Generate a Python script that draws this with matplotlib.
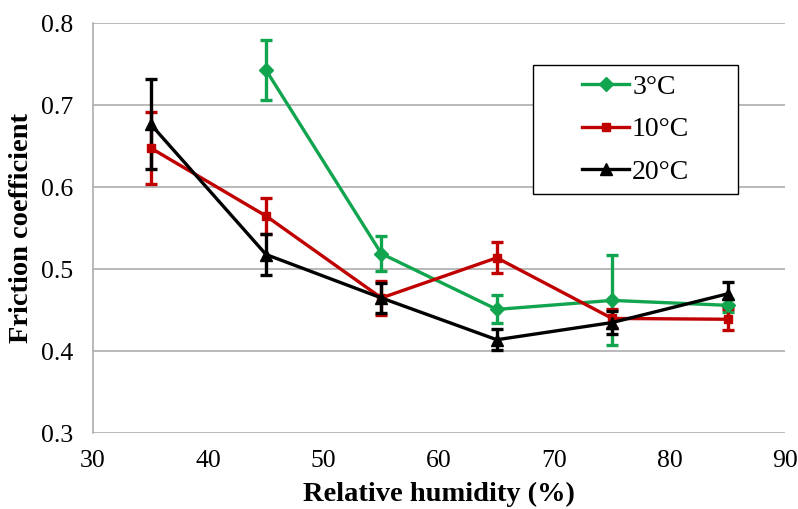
import matplotlib
matplotlib.use("Agg")
import matplotlib.pyplot as plt
from matplotlib.lines import Line2D
from matplotlib.patches import Rectangle

humidity = [35, 45, 55, 65, 75, 85]

# 3°C (no value at 35 %)
h_3 = [45, 55, 65, 75, 85]
mu_3 = [0.743, 0.519, 0.451, 0.462, 0.456]
err_3 = [0.037, 0.021, 0.017, 0.055, 0.008]

mu_10 = [0.648, 0.565, 0.465, 0.514, 0.440, 0.439]
err_10 = [0.044, 0.022, 0.021, 0.019, 0.012, 0.013]

mu_20 = [0.677, 0.518, 0.465, 0.414, 0.435, 0.470]
err_20 = [0.055, 0.025, 0.018, 0.013, 0.014, 0.015]

labels = ["3°C", "10°C", "20°C"]
colors = ["#12A54F", "#C00000", "#000000"]

plt.rcParams["font.family"] = ["Liberation Serif", "DejaVu Serif"]

fig = plt.figure(figsize=(7.98, 5.09), dpi=100)
ax = fig.add_axes([0.1165, 0.149, 0.8675, 0.805])

series = [
    (h_3, mu_3, err_3, "D", 7),
    (humidity, mu_10, err_10, "s", 5.5),
    (humidity, mu_20, err_20, "^", 9),
]
handles = []
for (x, y, e, m, ms), lab, c in zip(series, labels, colors):
    ax.errorbar(x, y, yerr=e, color=c, marker=m, markersize=ms,
                linewidth=2.4, elinewidth=2.4, capsize=4.5, capthick=2.4,
                zorder=3)
    handles.append(Line2D([], [], color=c, marker=m, markersize=ms,
                          linewidth=2.4))

ax.set_xlim(30, 90)
ax.set_ylim(0.3, 0.8)
ax.set_xticks([30, 40, 50, 60, 70, 80, 90])
ax.set_yticks([0.3, 0.4, 0.5, 0.6, 0.7, 0.8])
ax.set_yticklabels(["0.3", "0.4", "0.5", "0.6", "0.7", "0.8"])
ax.yaxis.grid(True, color="#A6A6A6", linewidth=1.1)
ax.set_axisbelow(True)
for s in ["top", "right", "bottom"]:
    ax.spines[s].set_visible(False)
ax.spines["left"].set_color("#A6A6A6")
ax.spines["left"].set_linewidth(1.1)
ax.tick_params(axis="both", length=0, labelsize=18.5, colors="#000000")
ax.tick_params(axis="x", pad=12)
ax.tick_params(axis="y", pad=14)

ax.set_xlabel("Relative humidity (%)", fontsize=20.5, fontweight="bold", labelpad=7)
ax.set_ylabel("Friction coefficient", fontsize=20.5, fontweight="bold", labelpad=5)

# legend frame drawn as rectangle in axes coordinates
box_x0, box_y0, box_w, box_h = 0.636, 0.583, 0.296, 0.315
ax.add_patch(Rectangle((box_x0, box_y0), box_w, box_h, transform=ax.transAxes,
                       facecolor="white", edgecolor="#000000", linewidth=1.0,
                       zorder=4))
leg = ax.legend(handles=handles, labels=labels, loc="center",
                bbox_to_anchor=(box_x0 + box_w * 0.50, box_y0 + box_h / 2),
                fontsize=20, frameon=False, handlelength=1.7,
                handletextpad=0.1, labelspacing=0.62, borderaxespad=0)
leg.set_zorder(5)

fig.savefig("out.png", dpi=100)
